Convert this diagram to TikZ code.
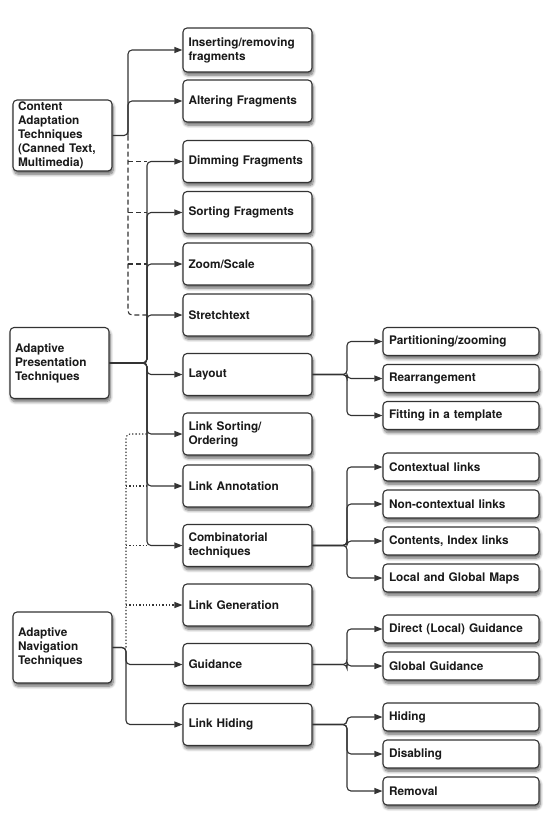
\documentclass[tikz,border=0pt]{standalone}
\usepackage{fontspec}
\setmainfont{TeX Gyre Heros}
\usetikzlibrary{arrows.meta,shadows.blur}
\definecolor{ln}{HTML}{333333}
\definecolor{tx}{HTML}{1A1A1A}
\begin{document}
\begin{tikzpicture}[x=1pt,y=-1pt,
  box/.style={draw=ln, line width=1.1pt, rounded corners=4pt, fill=white,
    blur shadow={shadow xshift=1.2pt, shadow yshift=-3.2pt, shadow blur radius=3pt, shadow blur steps=8, shadow opacity=60},
    text=tx, font=\fontsize{11.8}{14}\selectfont\bfseries, align=left, inner ysep=1pt},
  lbox/.style={box, minimum width=99pt, minimum height=71pt, text width=89pt, inner xsep=5pt},
  mbox/.style={box, minimum width=129pt, minimum height=42pt, text width=118pt, inner xsep=5.5pt},
  rbox/.style={box, minimum width=156pt, minimum height=28pt, text width=144pt, inner xsep=6pt},
  conn/.style={draw=ln, line width=1.1pt, rounded corners=4pt, -{Triangle[length=8pt,width=6pt]}},
  plain/.style={draw=ln, line width=1.1pt, rounded corners=4pt},
  dashc/.style={plain, dash pattern=on 5pt off 3pt},
  dotc/.style={plain, line width=1.1pt, dash pattern=on 1.3pt off 2pt},
]
\useasboundingbox (0,0) rectangle (546,830);
% bus positions
\coordinate (busC) at (128,0);
\coordinate (busP) at (147,0);
\coordinate (busN) at (126,0);
\coordinate (busR) at (347,0);

% left nodes
\node[lbox] (ca) at (62.5,135.5) {Content\\Adaptation\\Techniques\\(Canned Text,\\Multimedia)};
\node[lbox] (ap) at (59.5,363) {Adaptive\\Presentation\\Techniques};
\node[lbox] (an) at (62.5,647.5) {Adaptive\\Navigation\\Techniques};

% middle nodes
\node[mbox, minimum height=44pt] (ins) at (247.5,50) {Inserting/removing\\fragments};
\node[mbox] (alt) at (247.5,101) {Altering Fragments};
\node[mbox] (dim) at (247.5,161.5) {Dimming Fragments};
\node[mbox] (sor) at (247.5,212.5) {Sorting Fragments};
\node[mbox] (zoo) at (247.5,264) {Zoom/Scale};
\node[mbox] (str) at (247.5,315) {Stretchtext};
\node[mbox] (lay) at (247.5,374.5) {Layout};
\node[mbox] (lso) at (247.5,434) {Link Sorting/\\Ordering};
\node[mbox] (lan) at (247.5,486) {Link Annotation};
\node[mbox] (com) at (247.5,545.5) {Combinatorial\\techniques};
\node[mbox] (lge) at (247.5,605) {Link Generation};
\node[mbox] (gui) at (247.5,664.5) {Guidance};
\node[mbox] (lhi) at (247.5,724.5) {Link Hiding};

% right nodes
\node[rbox] (par) at (461,341.5) {Partitioning/zooming};
\node[rbox] (rea) at (461,378.5) {Rearrangement};
\node[rbox] (fit) at (461,415.5) {Fitting in a template};
\node[rbox] (ctx) at (461,467) {Contextual links};
\node[rbox] (nct) at (461,504) {Non-contextual links};
\node[rbox] (cix) at (461,541) {Contents, Index links};
\node[rbox] (lgm) at (461,578) {Local and Global Maps};
\node[rbox] (dir) at (461,629) {Direct (Local) Guidance};
\node[rbox] (glo) at (461,666) {Global Guidance};
\node[rbox] (hid) at (461,717) {Hiding};
\node[rbox] (dis) at (461,754) {Disabling};
\node[rbox] (rem) at (461,791) {Removal};

% Content adaptation connectors
\draw[dashc] (ca.east -| busC) |- (str.west -| busP);
\draw[dashc] (dim.west -| busC) -- (dim.west -| busP);
\draw[dashc] (sor.west -| busC) -- (sor.west -| busP);
\draw[dashc] (zoo.west -| busC) -- (zoo.west -| busP);
\draw[conn] (ca.east) -- (ca.east -| busC) |- (ins.west);
\draw[conn] (ca.east -| busC) |- (alt.west);

% Adaptive navigation dotted connectors
\draw[dotc] (an.east -| busN) |- (lso.west -| busP);
\draw[dotc] (lan.west -| busN) -- (lan.west -| busP);
\draw[dotc] (com.west -| busN) -- (com.west -| busP);
\draw[dotc, -{Triangle[length=8pt,width=6pt]}] (lge.west -| busN) -- (lge.west);

% Adaptive presentation connectors
\foreach \t in {dim,sor,zoo,str,lay,lso,lan,com}
  \draw[conn] (ap.east) -- (ap.east -| busP) |- (\t.west);

% Adaptive navigation solid connectors
\foreach \t in {gui,lhi}
  \draw[conn] (an.east) -- (an.east -| busN) |- (\t.west);

% right branches
\foreach \t in {par,rea,fit}
  \draw[conn] (lay.east) -- (lay.east -| busR) |- (\t.west);
\foreach \t in {ctx,nct,cix,lgm}
  \draw[conn] (com.east) -- (com.east -| busR) |- (\t.west);
\foreach \t in {dir,glo}
  \draw[conn] (gui.east) -- (gui.east -| busR) |- (\t.west);
\foreach \t in {hid,dis,rem}
  \draw[conn] (lhi.east) -- (lhi.east -| busR) |- (\t.west);
\end{tikzpicture}
\end{document}
